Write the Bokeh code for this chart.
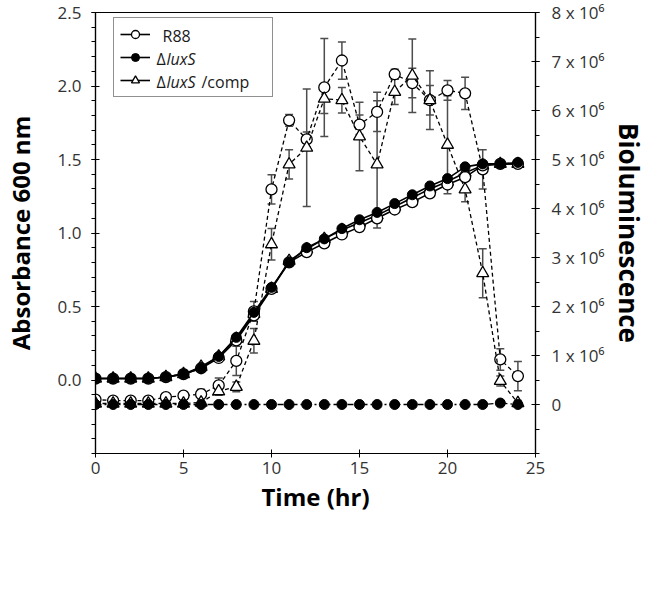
from bokeh.plotting import figure
from bokeh.models import (Range1d, LinearAxis, FixedTicker, Whisker, ColumnDataSource,
                          Legend, LegendItem, NumeralTickFormatter, Label)
from bokeh.embed import file_html
from bokeh.resources import INLINE

# ---------------- data ----------------
hours = list(range(25))

# Absorbance 600 nm (left axis)
od_r88 = [0.01, 0.01, 0.01, 0.01, 0.02, 0.04, 0.08, 0.15, 0.27, 0.44, 0.62, 0.80, 0.87, 0.93,
          0.99, 1.04, 1.10, 1.16, 1.21, 1.27, 1.33, 1.38, 1.46, 1.47, 1.47]
od_luxs = [0.01, 0.01, 0.01, 0.01, 0.02, 0.04, 0.08, 0.16, 0.29, 0.46, 0.63, 0.80, 0.90, 0.96,
           1.03, 1.09, 1.14, 1.20, 1.26, 1.32, 1.37, 1.45, 1.47, 1.47, 1.48]
od_comp = [0.01, 0.01, 0.01, 0.01, 0.02, 0.04, 0.09, 0.16, 0.28, 0.45, 0.62, 0.81, 0.89, 0.96,
           1.02, 1.07, 1.12, 1.18, 1.24, 1.30, 1.35, 1.41, 1.46, 1.47, 1.47]

# Bioluminescence, in units of 10^6 (right axis)
bio_r88 = [0.10, 0.08, 0.08, 0.08, 0.15, 0.18, 0.21, 0.39, 0.89, 1.90, 4.39, 5.80, 5.41, 6.47,
           7.02, 5.71, 5.97, 6.74, 6.56, 6.21, 6.41, 6.35, 4.80, 0.92, 0.58]
bio_r88_err = [0.03, 0.03, 0.03, 0.03, 0.05, 0.06, 0.10, 0.15, 0.30, 0.20, 0.30, 0.12, 0.15, 1.00,
               0.38, 0.20, 0.40, 0.10, 0.30, 0.60, 0.20, 0.33, 0.40, 0.22, 0.30]
bio_luxs = [0.0, 0.0, 0.0, 0.0, 0.0, 0.0, 0.0, 0.0, 0.0, 0.0, 0.0, 0.0, 0.0, 0.0,
            0.0, 0.0, 0.0, 0.0, 0.0, 0.0, 0.0, 0.0, 0.0, 0.03, 0.0]
bio_comp = [0.02, 0.02, 0.02, 0.02, 0.02, 0.02, 0.04, 0.27, 0.36, 1.30, 3.27, 4.90, 5.24, 6.24,
            6.21, 5.47, 4.90, 6.38, 6.71, 6.21, 5.30, 4.39, 2.68, 0.48, 0.03]
bio_comp_err = [0.02, 0.02, 0.02, 0.02, 0.02, 0.02, 0.03, 0.08, 0.10, 0.25, 0.32, 0.30, 1.20, 0.30,
                0.26, 0.70, 1.30, 0.26, 0.75, 0.30, 1.00, 0.25, 0.50, 0.10, 0.05]

x_ticks = [0, 5, 10, 15, 20, 25]
od_ticks = [0.0, 0.5, 1.0, 1.5, 2.0, 2.5]
bio_ticks = [0, 1, 2, 3, 4, 5, 6, 7, 8]
bio_tick_labels = ["0", "1 x 10⁶", "2 x 10⁶", "3 x 10⁶", "4 x 10⁶", "5 x 10⁶",
                   "6 x 10⁶", "7 x 10⁶", "8 x 10⁶"]

FONT = "Open Sans"

# ---------------- figure ----------------
p = figure(width=650, height=584, output_backend="svg", toolbar_location=None,
           x_range=Range1d(0, 25), y_range=Range1d(-0.5, 2.5),
           min_border_left=90, min_border_right=112, min_border_top=12, min_border_bottom=131)
p.extra_y_ranges = {"bio": Range1d(-1, 8)}
p.grid.visible = False
p.outline_line_color = "black"
p.outline_line_width = 1.2
p.background_fill_color = "white"
p.border_fill_color = "white"

def style_axis(ax, title_size):
    ax.axis_line_color = "black"
    ax.axis_line_width = 1.2
    ax.major_tick_line_color = "black"
    ax.minor_tick_line_color = "black"
    ax.major_tick_in = 4
    ax.major_tick_out = 4
    ax.minor_tick_in = 0
    ax.minor_tick_out = 4
    ax.major_label_text_font = FONT
    ax.major_label_text_font_size = "17px"
    ax.major_label_text_color = "#333333"
    ax.axis_label_text_font = FONT
    ax.axis_label_text_font_size = title_size
    ax.axis_label_text_font_style = "bold"
    ax.axis_label_text_color = "black"

xa = p.xaxis[0]
style_axis(xa, "24px")
xa.ticker = FixedTicker(ticks=x_ticks)
xa.axis_label = "Time (hr)"
xa.major_label_standoff = 4
xa.axis_label_standoff = 3

ya = p.yaxis[0]
style_axis(ya, "24px")
ya.ticker = FixedTicker(ticks=od_ticks, minor_ticks=[round(-0.5 + 0.1 * i, 2) for i in range(31)])
ya.formatter = NumeralTickFormatter(format="0.0")
ya.axis_label = "Absorbance 600 nm"
ya.major_label_standoff = 10
ya.axis_label_standoff = 18

ra = LinearAxis(y_range_name="bio")
style_axis(ra, "26px")
ra.ticker = FixedTicker(ticks=bio_ticks, minor_ticks=[-1 + 0.5 * i for i in range(19)])
ra.major_label_overrides = dict(zip(bio_ticks, bio_tick_labels))
ra.axis_label = "Bioluminescence"
ra.major_label_standoff = 12
ra.axis_label_standoff = 4
p.add_layout(ra, "right")

# ---------------- error bars ----------------
def add_err(vals, errs):
    src = ColumnDataSource(dict(x=hours,
                                lo=[v - e for v, e in zip(vals, errs)],
                                hi=[v + e for v, e in zip(vals, errs)]))
    w = Whisker(source=src, base="x", upper="hi", lower="lo", dimension="height",
                y_range_name="bio", line_color="#4d4d4d", line_width=1.5)
    for head in (w.upper_head, w.lower_head):
        head.size = 8
        head.line_color = "#4d4d4d"
        head.line_width = 1.5
    p.add_layout(w)

add_err(bio_r88, bio_r88_err)
add_err(bio_comp, bio_comp_err)

# ---------------- bioluminescence (dashed) ----------------
p.line(hours, bio_r88, y_range_name="bio", line_color="black", line_width=1.3, line_dash="4 3")
p.scatter(hours, bio_r88, y_range_name="bio", marker="circle", size=11,
          fill_color="white", line_color="black", line_width=1.3)
p.line(hours, bio_comp, y_range_name="bio", line_color="black", line_width=1.3, line_dash="4 3")
p.scatter(hours, bio_comp, y_range_name="bio", marker="triangle", size=12,
          fill_color="white", line_color="black", line_width=1.3)
p.line(hours, bio_luxs, y_range_name="bio", line_color="black", line_width=1.3,
       line_dash="6 3 2 3")
p.scatter(hours, bio_luxs, y_range_name="bio", marker="circle", size=10,
          fill_color="black", line_color="black")

# ---------------- absorbance (solid) ----------------
l_comp = p.line(hours, od_comp, line_color="black", line_width=1.6)
s_comp = p.scatter(hours, od_comp, marker="triangle", size=12, fill_color="white",
                   line_color="black", line_width=1.3)
l_r88 = p.line(hours, od_r88, line_color="black", line_width=1.6)
s_r88 = p.scatter(hours, od_r88, marker="circle", size=11, fill_color="white",
                  line_color="black", line_width=1.3)
l_luxs = p.line(hours, od_luxs, line_color="black", line_width=1.6)
s_luxs = p.scatter(hours, od_luxs, marker="circle", size=10, fill_color="black", line_color="black")

# ---------------- legend (samples from Bokeh, texts as labels for the italic gene name) ----
LEG_X, LEG_Y, PAD, ROW, GAP = 18, 356, 6, 20, 3
legend = Legend(items=[
    LegendItem(label=" ", renderers=[l_r88, s_r88]),
    LegendItem(label=" ", renderers=[l_luxs, s_luxs]),
    LegendItem(label=" ", renderers=[l_comp, s_comp]),
], location=(LEG_X, LEG_Y))
legend.padding = PAD
legend.spacing = GAP
legend.glyph_width = 30
legend.glyph_height = ROW
legend.label_height = ROW
legend.label_width = 108
legend.label_text_font_size = "8px"
legend.label_standoff = 8
legend.border_line_color = "#222222"
legend.border_line_width = 1.2
legend.background_fill_alpha = 0
p.add_layout(legend)

leg_h = 2 * PAD + 3 * ROW + 2 * GAP
row_y = [LEG_Y + leg_h - PAD - ROW / 2 - i * (ROW + GAP) for i in range(3)]
tx = LEG_X + PAD + 30 + 8
lab = dict(x_units="screen", y_units="screen", text_baseline="middle", text_align="left",
           text_font=FONT, text_font_size="16px", text_color="#1a1a1a")
p.add_layout(Label(x=tx + 5, y=row_y[0], text="R88", **lab))
p.add_layout(Label(x=tx - 1, y=row_y[1], text="Δ", **lab))
p.add_layout(Label(x=tx + 9, y=row_y[1], text="luxS", text_font_style="italic", **lab))
p.add_layout(Label(x=tx - 1, y=row_y[2], text="Δ", **lab))
p.add_layout(Label(x=tx + 9, y=row_y[2], text="luxS", text_font_style="italic", **lab))
p.add_layout(Label(x=tx + 44, y=row_y[2], text="/comp", **lab))

open("out.html", "w").write(file_html(p, INLINE))
